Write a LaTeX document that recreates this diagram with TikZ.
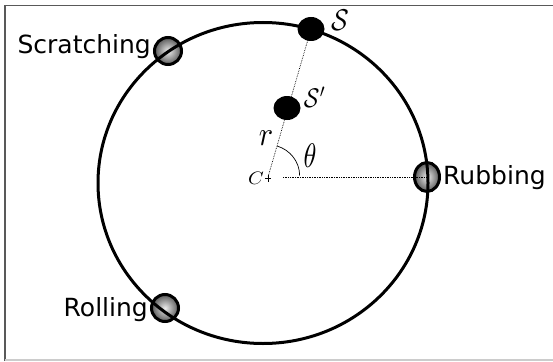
\RequirePackage{fix-cm}
\documentclass[tikz,border=0pt]{standalone}
\usepackage{fontspec}
\setsansfont{DejaVu Sans}
\begin{document}
\begin{tikzpicture}[x=1pt,y=-1pt,
  lbl/.style={font=\sffamily\fontsize{25}{29}\selectfont, inner sep=0pt},
  mlbl/.style={inner sep=0pt},
  contact/.style={draw=black, line width=3pt, inner color=gray!15, outer color=black!65},
  blob/.style={fill=black},
  guide/.style={densely dotted, line width=0.7pt}]
\useasboundingbox (0,0) rectangle (553,361);
\draw[gray!70!black, line width=1.2pt] (5,361) -- (5,5.5) -- (553,5.5);
\draw[gray!40, line width=1.2pt] (5,360) -- (553,360);

% named points
\coordinate (C) at (268,177);
\coordinate (Sp) at (287,108);
\coordinate (S) at (311,29);

% contact circles
\shade[contact] (168,51) ellipse [x radius=13.5, y radius=13.5];
\shade[contact] (165,308) ellipse [x radius=13.5, y radius=13.5];
\shade[contact] (427,177) ellipse [x radius=12.5, y radius=14.5];

% main circle
\draw[line width=3pt] (263,183) ellipse [x radius=165, y radius=160.5];

% guides
\draw[guide] (S) -- (C);
\draw[guide] (283,177) -- (427,177);
\draw[line width=0.7pt] (277,146) arc[start angle=-73, end angle=0, x radius=32, y radius=31];

% dots
\fill[blob] (S) ellipse [x radius=13.5, y radius=12];
\fill[blob] (Sp) ellipse [x radius=13.5, y radius=12];

% C marker
\draw[line width=0.5pt] (265,178) -- (271,178) (268,175) -- (268,182);
\node[mlbl] (Cl) at (256,178) {\scalebox{2.0}[1.8]{$C$}};

% labels
\node[mlbl] (Sl) at (340,20) {\scalebox{2.6}[3.0]{$\mathcal{S}$}};
\node[mlbl] (Spl) at (315,97) {\scalebox{2.3}[2.7]{$\mathcal{S}'$}};
\node[mlbl] (rl) at (266,138) {\scalebox{3.0}[3.4]{$r$}};
\node[mlbl] (tl) at (310,156) {\scalebox{2.6}[3.4]{$\theta$}};

\node[lbl, anchor=east] (scr) at (151,47) {Scratching};
\node[lbl, anchor=east] (rol) at (148,310) {Rolling};
\node[lbl, anchor=west] (rub) at (443,178) {Rubbing};
\end{tikzpicture}
\end{document}
